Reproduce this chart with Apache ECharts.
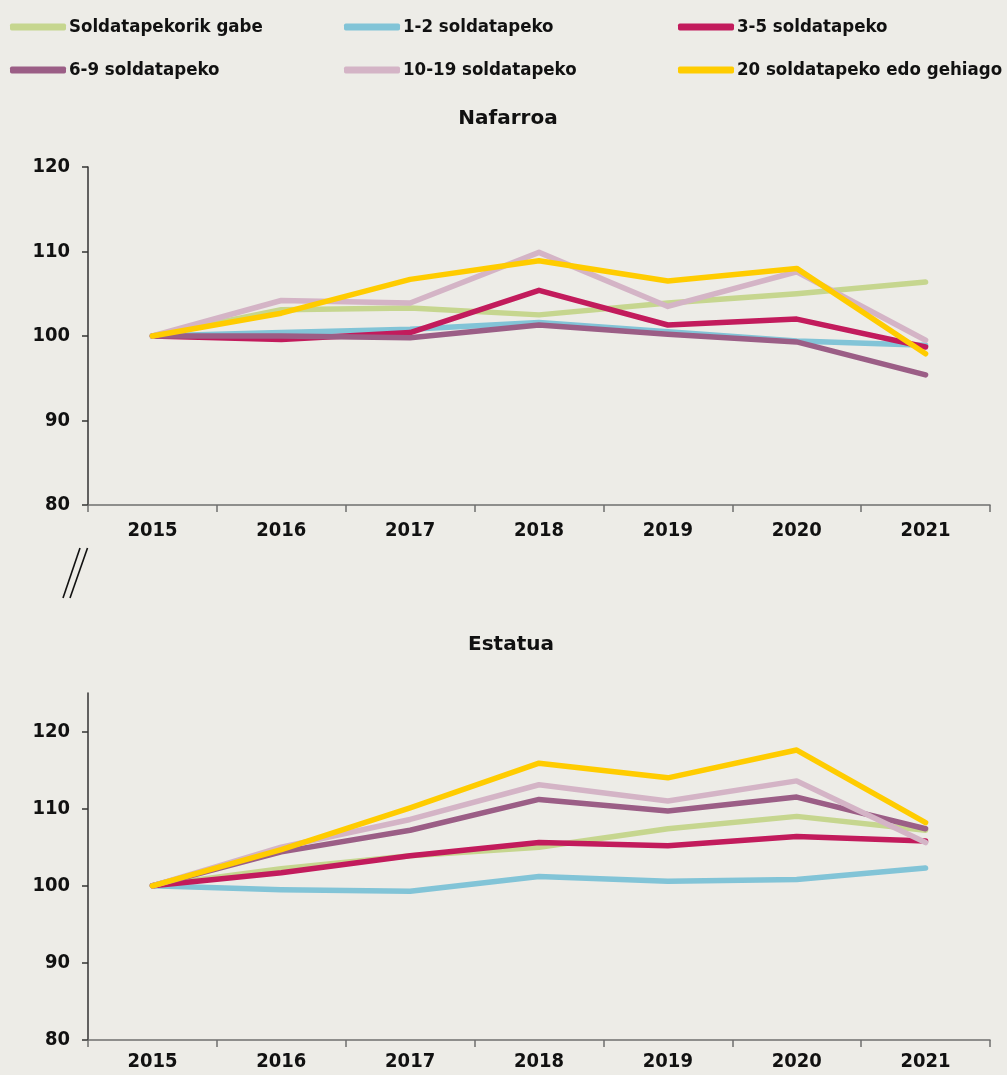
<!DOCTYPE html>
<html>
<head>
<meta charset="utf-8">
<script src="https://cdn.jsdelivr.net/npm/echarts@6/dist/echarts.min.js"></script>
<style>
html,body{margin:0;padding:0;background:#edece7;}
#c{width:1007px;height:1075px;}
</style>
</head>
<body>
<div id="c"></div>
<script>
const years = ['2015','2016','2017','2018','2019','2020','2021'];
const seriesNames = ['Soldatapekorik gabe','1-2 soldatapeko','3-5 soldatapeko','6-9 soldatapeko','10-19 soldatapeko','20 soldatapeko edo gehiago'];
const colors = ['#c6d68f','#82c4d7','#c21b5c','#9b5e86','#d4b4c6','#ffcc00'];
const panelTitles = ['Nafarroa','Estatua'];
const yTicks = [80,90,100,110,120];

// Nafarroa
const nafGabe   = [100,103.1,103.3,102.5,103.9,105.0,106.4];
const naf12     = [100,100.4,100.8,101.6,100.5,99.4,98.9];
const naf35     = [100,99.6,100.4,105.4,101.3,102.0,98.7];
const naf69     = [100,100.0,99.8,101.3,100.2,99.3,95.4];
const naf1019   = [100,104.2,103.9,109.9,103.5,107.6,99.5];
const naf20     = [100,102.7,106.7,108.9,106.5,108.0,97.9];

// Estatua
const estGabe   = [100,102.2,103.9,105.0,107.4,109.0,107.2];
const est12     = [100,99.5,99.3,101.2,100.6,100.8,102.3];
const est35     = [100,101.7,103.9,105.6,105.2,106.4,105.8];
const est69     = [100,104.4,107.2,111.2,109.7,111.5,107.4];
const est1019   = [100,105.0,108.6,113.1,111.0,113.6,105.6];
const est20     = [100,104.7,110.1,115.9,114.0,117.6,108.2];

const nafData = [nafGabe,naf12,naf35,naf69,naf1019,naf20];
const estData = [estGabe,est12,est35,est69,est1019,est20];

const FONT = '"DejaVu Sans Condensed","DejaVu Sans",sans-serif';

function xAxis(gridIndex, margin){
  return {
    type:'category', gridIndex, data: years, boundaryGap:true,
    axisLine:{show:true, lineStyle:{color:'#6f6f6f', width:1.5}},
    axisTick:{show:true, length:7, lineStyle:{color:'#6f6f6f', width:1.5}},
    axisLabel:{color:'#111', fontFamily:FONT, fontWeight:'bold', fontSize:20, margin},
    splitLine:{show:false}
  };
}
function yAxis(gridIndex, max){
  return {
    type:'value', gridIndex, min:80, max, interval:10,
    axisLine:{show:true, lineStyle:{color:'#333', width:1.5}},
    axisTick:{show:true, length:6, customValues:yTicks, lineStyle:{color:'#333', width:1.5}},
    axisLabel:{color:'#111', fontFamily:FONT, fontWeight:'bold', fontSize:20, margin:18,
      customValues:yTicks, formatter:v => yTicks.indexOf(v) >= 0 ? String(v) : ''},
    splitLine:{show:false}
  };
}

const series = [];
seriesNames.forEach((n,i)=>{
  series.push({name:n, type:'line', xAxisIndex:0, yAxisIndex:0, data:nafData[i], showSymbol:false, symbol:'none',
    lineStyle:{color:colors[i], width:5.5, cap:'round', join:'round'}, itemStyle:{color:colors[i]}, z:2+i});
  series.push({name:n, type:'line', xAxisIndex:1, yAxisIndex:1, data:estData[i], showSymbol:false, symbol:'none',
    lineStyle:{color:colors[i], width:5.5, cap:'round', join:'round'}, itemStyle:{color:colors[i]}, z:2+i});
});

const legendPos = [[10,17],[344,17],[678,17],[10,60],[344,60],[678,60]];
const legends = seriesNames.map((n,i)=>({
  data:[n], left:legendPos[i][0], top:legendPos[i][1], padding:0,
  itemWidth:56, itemHeight:7, icon:'roundRect', itemGap:0,
  textStyle:{color:'#111', fontFamily:FONT, fontWeight:'bold', fontSize:18.5, lineHeight:20, padding:[0,0,0,-2]},
  selectedMode:false
}));

const chart = echarts.init(document.getElementById('c'));
chart.setOption({
  backgroundColor:'#edece7',
  animation:false,
  title:[
    {text:panelTitles[0], left:503, top:104, textAlign:'center',
     textStyle:{color:'#111', fontFamily:'"DejaVu Sans",sans-serif', fontWeight:'bold', fontSize:20}},
    {text:panelTitles[1], left:506, top:630, textAlign:'center',
     textStyle:{color:'#111', fontFamily:'"DejaVu Sans",sans-serif', fontWeight:'bold', fontSize:20}}
  ],
  legend:legends,
  grid:[
    {left:88, right:17, top:167, bottom:570, containLabel:false},
    {left:88, right:17, top:693, bottom:35, containLabel:false}
  ],
  xAxis:[xAxis(0,16), xAxis(1,12)],
  yAxis:[yAxis(0,120), yAxis(1,125)],
  series,
  graphic:[
    {type:'line', shape:{x1:63,y1:598,x2:80,y2:548}, style:{stroke:'#111', lineWidth:1.6}},
    {type:'line', shape:{x1:70,y1:598,x2:87.5,y2:548}, style:{stroke:'#111', lineWidth:1.6}}
  ]
});
</script>
</body>
</html>
